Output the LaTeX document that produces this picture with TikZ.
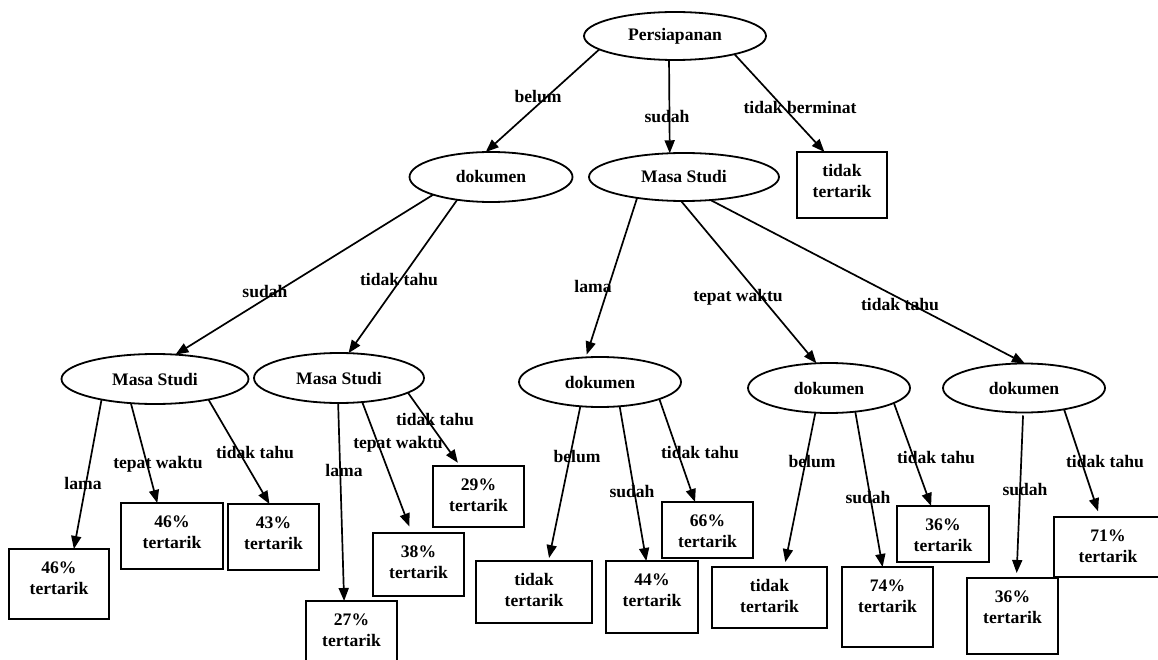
\documentclass[tikz,border=0pt]{standalone}
\usepackage{fontspec}
\setmainfont{Liberation Serif}
\usetikzlibrary{arrows.meta,shapes.geometric}
\newlength\boxpad
\setlength\boxpad{12.3pt}
\newcommand{\bt}[3]{\parbox[c][#2pt][t]{#1pt}{\centering\vspace*{\boxpad}#3\par}}
\begin{document}
\begin{tikzpicture}[x=1pt,y=-1pt,
  every node/.style={font=\fontsize{17.6}{21}\selectfont\bfseries, text=black},
  ell/.style={draw, ellipse, line width=1.8pt, inner sep=0pt, outer sep=0pt},
  tbox/.style={draw, rectangle, line width=1.8pt, inner sep=0pt, outer sep=0pt},
  edge/.style={line width=1.7pt, -{Triangle[length=13pt,width=10pt]}},
  lab/.style={inner sep=0pt}
]
\fill[white] (0,0) rectangle (1158,660);
\useasboundingbox (0,0) rectangle (1158,660);

% ellipses
\node[ell, minimum width=182pt, minimum height=48pt] (P) at (675,36) {Persiapanan};
\node[ell, minimum width=163pt, minimum height=50pt] (D1) at (491,177) {dokumen};
\node[ell, minimum width=190pt, minimum height=48pt] (M1) at (684,177) {Masa Studi};
\node[ell, minimum width=187pt, minimum height=50pt] (M2a) at (155,379) {Masa Studi};
\node[ell, minimum width=170pt, minimum height=50pt] (M2b) at (339,378) {Masa Studi};
\node[ell, minimum width=162pt, minimum height=50pt] (D3a) at (600,382) {dokumen};
\node[ell, minimum width=162pt, minimum height=50pt] (D3b) at (829,388) {dokumen};
\node[ell, minimum width=162pt, minimum height=49pt] (D3c) at (1024,388) {dokumen};

% boxes
\node[tbox] (T0) at (842,185) {\bt{90}{66}{tidak\\tertarik}};
\node[tbox] (B46a) at (59,584) {\bt{100}{70}{46\%\\tertarik}};
\node[tbox] (B46b) at (172,536) {\bt{102}{66}{46\%\\tertarik}};
\node[tbox] (B43) at (273.5,537) {\bt{91}{66}{43\%\\tertarik}};
\node[tbox] (B27) at (351.5,633) {\bt{91}{64}{27\%\\tertarik}};
\node[tbox] (B38) at (418.5,564.5) {\bt{91}{63}{38\%\\tertarik}};
\node[tbox] (B29) at (478.5,496.5) {\bt{91}{61}{29\%\\tertarik}};
\node[tbox] (T1) at (534,592) {\bt{116}{62}{tidak\\tertarik}};
\node[tbox] (B44) at (652,597) {\bt{92}{72}{44\%\\tertarik}};
\node[tbox] (B66) at (707.5,530) {\bt{91}{56}{66\%\\tertarik}};
\node[tbox] (T2) at (769.5,597.5) {\bt{115}{61}{tidak\\tertarik}};
\node[tbox] (B74) at (887.5,607) {\bt{91}{80}{74\%\\tertarik}};
\node[tbox] (B36a) at (943,534) {\bt{92}{56}{36\%\\tertarik}};
\node[tbox] (B36b) at (1012.5,616) {\bt{91}{76}{36\%\\tertarik}};
\node[tbox] (B71) at (1108,547) {\bt{108}{60}{71\%\\tertarik}};

% edges
\draw[edge] (P.190) -- (D1.102);
\draw[edge] (P.-104) -- (M1.121);
\draw[edge] (P.-17) -- (T0.118);
\draw[edge] (D1.197) -- (M2a.50);
\draw[edge] (D1.-146) -- (M2b.69);
\draw[edge, shorten >=3pt] (M1.-156) -- (D3a.120);
\draw[edge] (M1.-97) -- (D3b.117);
\draw[edge] (M1.-41) -- (D3c.88);
\draw[edge] (M2a.-159) -- (B46a.67);
\draw[edge] (M2a.-135) -- (B46b.114);
\draw[edge] (M2a.-21) -- (B43.97);
\draw[edge] (M2b.-92) -- (B27.103);
\draw[edge, shorten >=7pt] (M2b.-46) -- (B38.102);
\draw[edge, shorten >=4pt] (M2b.-12) -- (B29.121);
\draw[edge, shorten >=3pt] (D3a.-129) -- (T1.65);
\draw[edge] (D3a.-51) -- (B44.99);
\draw[edge] (D3a.-16) -- (B66.114);
\draw[edge, shorten >=5pt] (D3b.-119) -- (T2.64);
\draw[edge] (D3b.-42) -- (B74.97);
\draw[edge] (D3b.-13) -- (B36a.113);
\draw[edge, shorten <=3pt, shorten >=5pt] (D3c.-92) -- (B36b.84);
\draw[edge, shorten >=6pt] (D3c.-28) -- (B71.105);

% labels
\node[lab] (l1) at (538,97) {belum};
\node[lab] (l2) at (667,117) {sudah};
\node[lab] (l3) at (800,107) {tidak berminat};
\node[lab] (l4) at (265,292) {sudah};
\node[lab] (l5) at (399,280) {tidak tahu};
\node[lab] (l6) at (593,286) {lama};
\node[lab] (l7) at (738,297) {tepat waktu};
\node[lab] (l8) at (900,305) {tidak tahu};
\node[lab] (l9) at (83,483) {lama};
\node[lab] (l10) at (158,464) {tepat waktu};
\node[lab] (l11) at (255,452) {tidak tahu};
\node[lab] (l12) at (344,470) {lama};
\node[lab] (l13) at (398,444) {tepat waktu};
\node[lab] (l14) at (435,419) {tidak tahu};
\node[lab] (l15) at (577,456) {belum};
\node[lab] (l16) at (632,491) {sudah};
\node[lab] (l17) at (700,452) {tidak tahu};
\node[lab] (l18) at (812,461) {belum};
\node[lab] (l19) at (868,497) {sudah};
\node[lab] (l20) at (936,457) {tidak tahu};
\node[lab] (l21) at (1025,489) {sudah};
\node[lab] (l22) at (1105,461) {tidak tahu};
\end{tikzpicture}
\end{document}
